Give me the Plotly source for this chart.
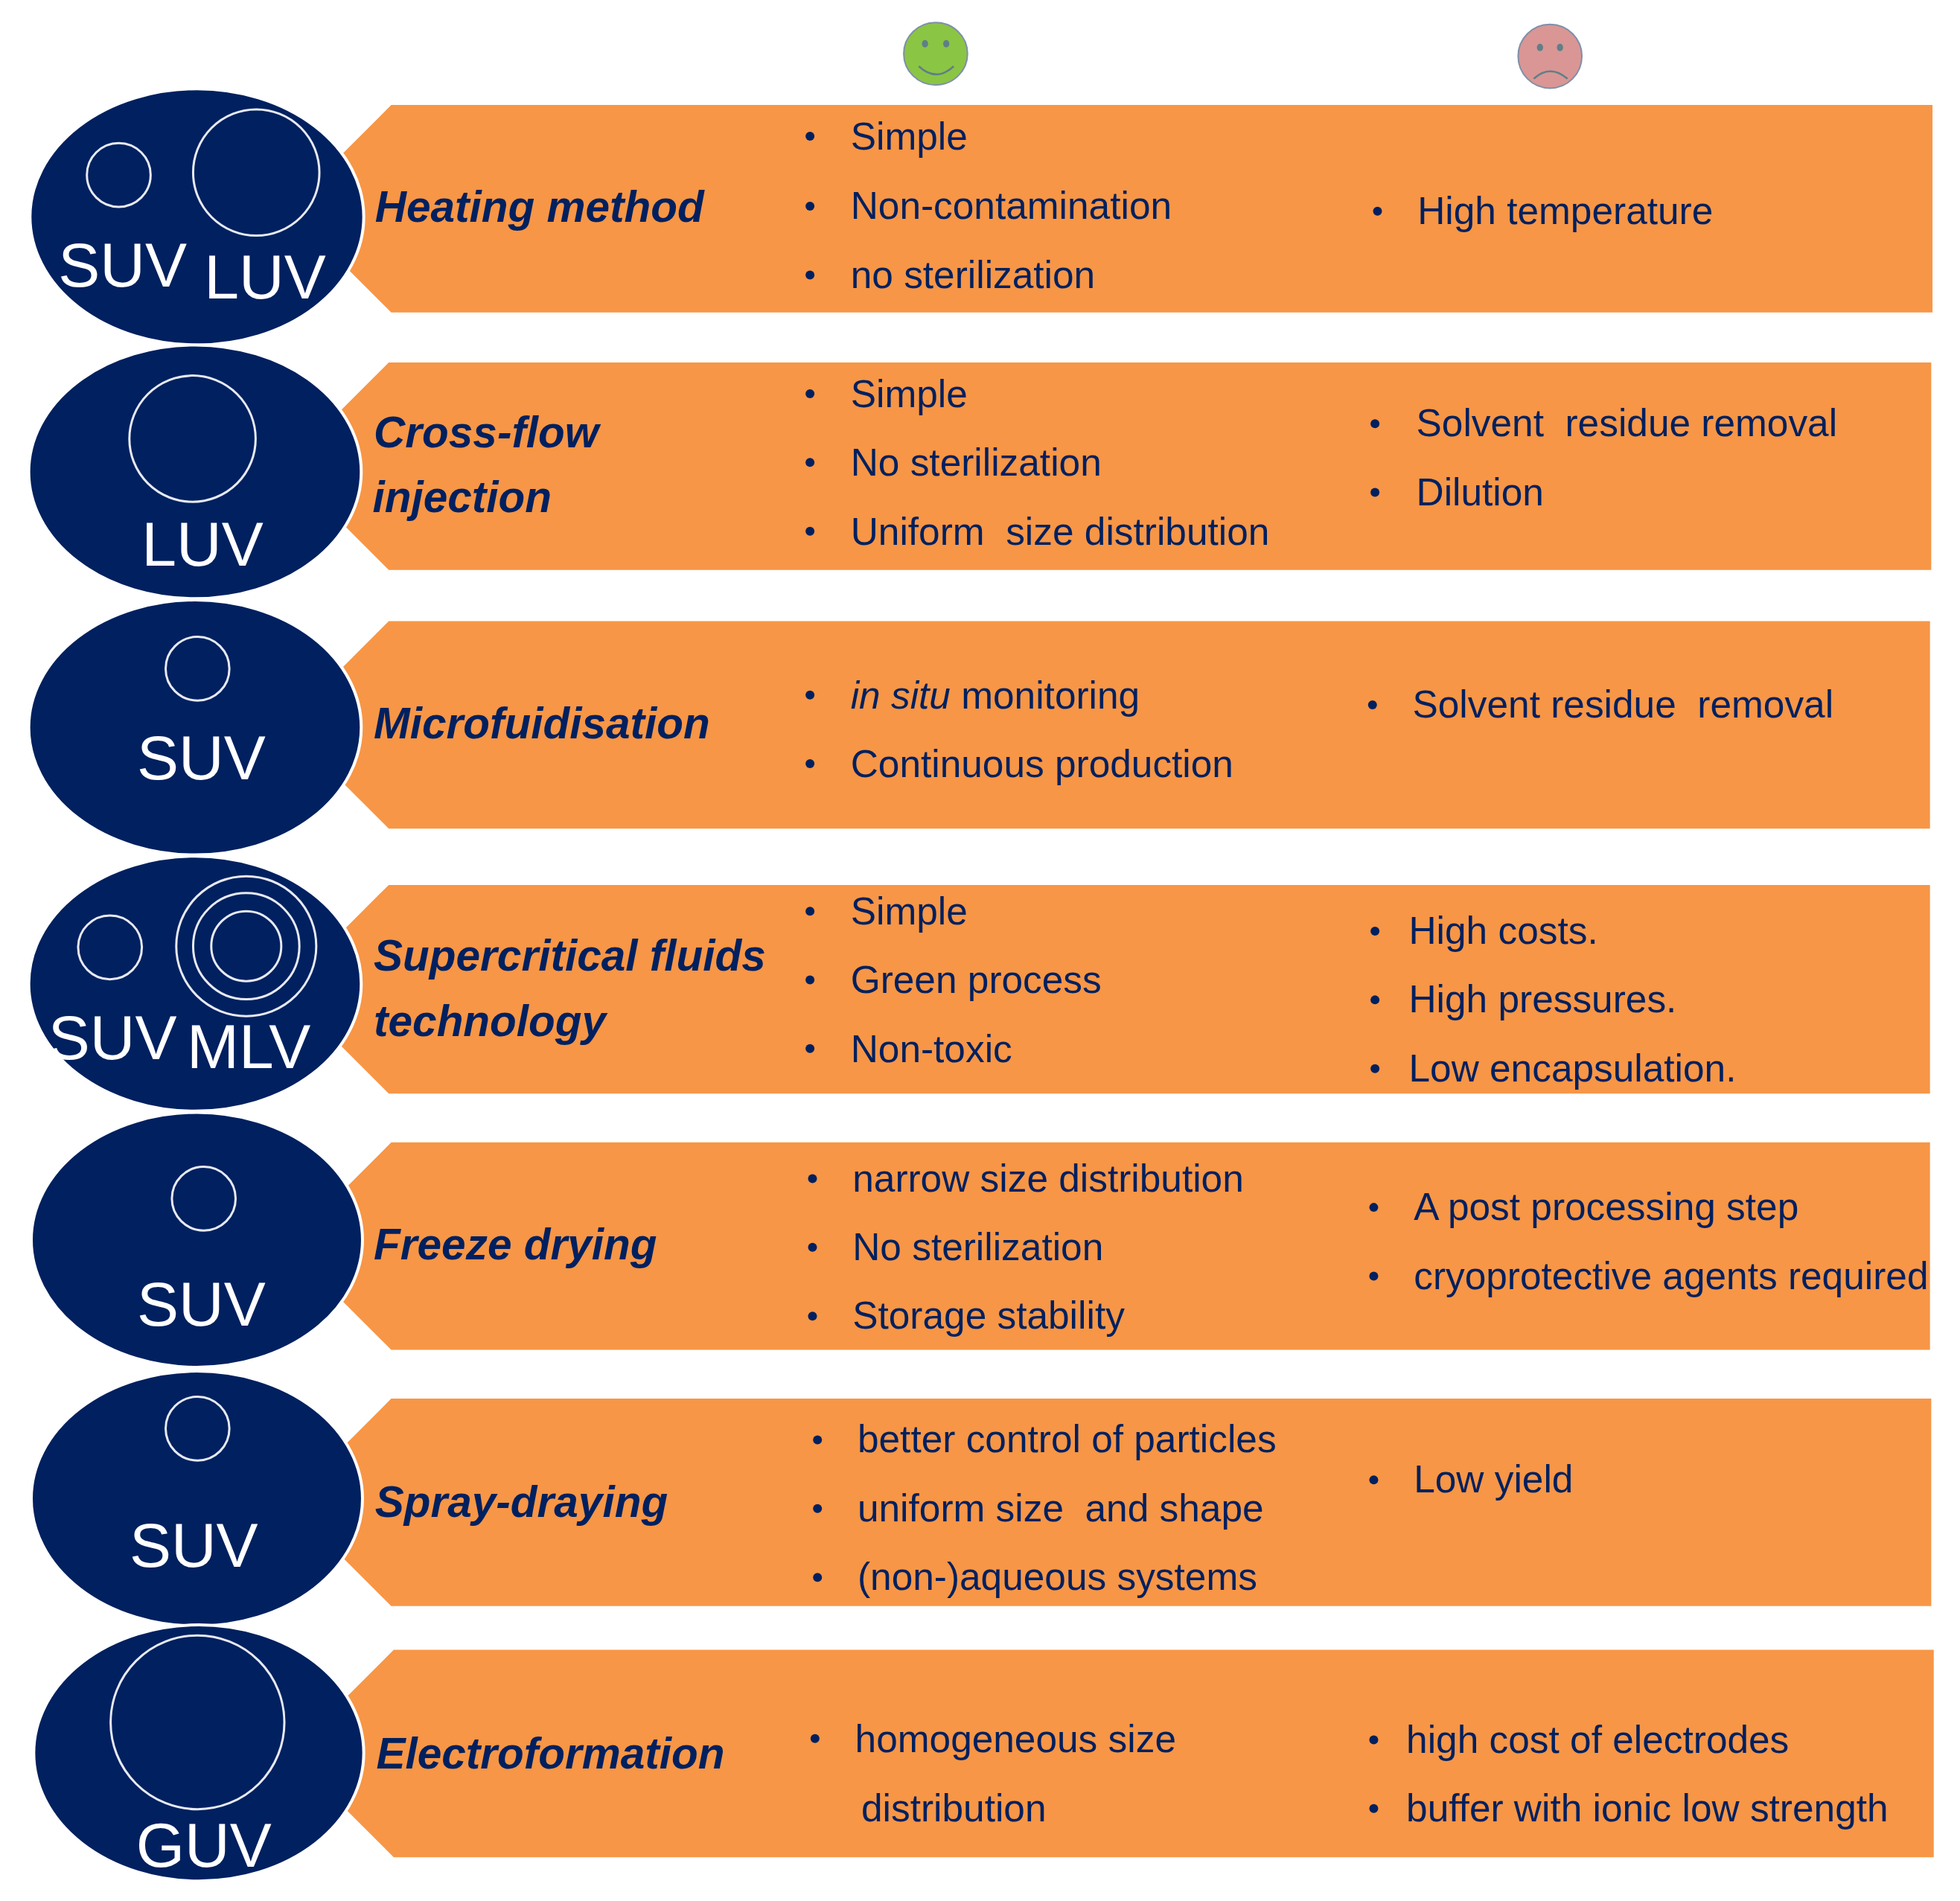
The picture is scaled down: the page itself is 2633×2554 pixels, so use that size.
import plotly.graph_objects as go

W, H = 2633, 2554
SCALE = 2633 / 1568

navy = "#00205f"
orange = "#f79646"

# bands
band_top = [84, 290, 497, 708, 914, 1119, 1320]
band_bot = [250, 456, 663, 875, 1080, 1285, 1486]
band_left = [313, 311, 311, 311, 313, 313, 315]
band_right = [1546, 1545, 1544, 1544, 1544, 1545, 1547]

# big navy ellipses
ell_x0 = [24, 23, 23, 23, 25, 25, 27]
ell_x1 = [291, 289, 289, 289, 290, 290, 291]
ell_y0 = [71, 276, 480, 685, 890, 1097, 1300]
ell_y1 = [276, 479, 684, 889, 1094, 1301, 1505]

# vesicle rings
ring_x = [95, 205, 154, 158, 88, 197, 197, 197, 163, 158, 158]
ring_y = [140, 138, 351, 535, 758, 757, 757, 757, 959, 1143, 1378]
ring_r = [25.5, 50.5, 50.5, 25.5, 25.5, 56, 42.5, 28, 25.5, 25.5, 69.5]

# vesicle labels
ves_text = ["SUV", "LUV", "LUV", "SUV", "SUV", "MLV", "SUV", "SUV", "GUV"]
ves_x = [98, 212, 162, 161, 90, 199, 161, 155, 163]
ves_y = [217, 226, 440, 611, 835, 842, 1048, 1241, 1481]

# method names
method_text = ["Heating method", "Cross-flow", "injection", "Microfuidisation",
               "Supercritical fluids", "technology", "Freeze drying",
               "Spray-draying", "Electroformation"]
method_x = [300, 299, 298, 299, 299, 299, 299, 300, 301]
method_y = [169, 349, 401, 582, 768, 820, 999, 1205, 1406]

# advantages
pro_text = ["Simple", "Non-contamination", "no sterilization",
            "Simple", "No sterilization", "Uniform\u00a0\u00a0size distribution",
            "<i>in situ</i> monitoring", "Continuous production",
            "Simple", "Green process", "Non-toxic",
            "narrow size distribution", "No sterilization", "Storage stability",
            "better control of particles", "uniform size\u00a0\u00a0and shape", "(non-)aqueous systems",
            "homogeneous size", "distribution"]
pro_x = [680.5, 680.5, 680.5, 680.5, 680.5, 680.5, 680.5, 680.5, 680.5, 680.5, 680.5,
         682, 682, 682, 686, 686, 686, 684, 689]
pro_y = [112, 167.5, 223, 318, 373, 428, 559, 614, 732, 787, 842,
         945.5, 1000.5, 1055.5, 1154.5, 1209.5, 1264.5, 1394, 1449.5]
pro_bullet_x = [648, 648, 648, 648, 648, 648, 648, 648, 648, 648, 648,
                650, 650, 650, 654, 654, 654, 652]
pro_bullet_y = [109, 165, 220, 315, 370, 425, 556, 611, 729, 784, 839,
                943, 998, 1053, 1152, 1207, 1262, 1391]

# drawbacks
con_text = ["High temperature", "Solvent\u00a0\u00a0residue removal", "Dilution",
            "Solvent residue\u00a0\u00a0removal", "High costs.", "High pressures.",
            "Low encapsulation.", "A post processing step",
            "cryoprotective agents required", "Low yield",
            "high cost of electrodes", "buffer with ionic low strength"]
con_x = [1134, 1133, 1133, 1130, 1127, 1127, 1127, 1131, 1131, 1131, 1125, 1125]
con_y = [171.5, 341.5, 396.5, 566.5, 747.5, 802.5, 857.5, 968.5, 1023.5, 1186.5, 1394.5, 1449.5]
con_bullet_x = [1102, 1100, 1100, 1098, 1100, 1100, 1100, 1099, 1099, 1099, 1099, 1099]
con_bullet_y = [169, 339, 394, 564, 745, 800, 855, 966, 1021, 1184, 1392, 1447]

shapes = []

for i in range(len(band_top)):
    l, r, t, b = band_left[i], band_right[i], band_top[i], band_bot[i]
    tip = l - (b - t) / 2
    shapes.append(dict(type="path", path=f"M {l} {t} L {r} {t} L {r} {b} L {l} {b} L {tip} {(t + b) / 2} Z",
                       fillcolor=orange, line=dict(width=0), layer="below"))

for i in range(len(ell_x0)):
    shapes.append(dict(type="circle", x0=ell_x0[i], x1=ell_x1[i], y0=ell_y0[i], y1=ell_y1[i],
                       fillcolor=navy, line=dict(color="white", width=4), layer="below"))

for x, y, rad in zip(ring_x, ring_y, ring_r):
    shapes.append(dict(type="circle", x0=x - rad, x1=x + rad, y0=y - rad, y1=y + rad,
                       line=dict(color="#e6eaf2", width=3), layer="below"))

# the two faces
def face(cx, cy, rx, ry, col, eyes_x, eye_y, mouth):
    shapes.append(dict(type="circle", x0=cx - rx, x1=cx + rx, y0=cy - ry, y1=cy + ry,
                       fillcolor=col, line=dict(color="#7f8fa8", width=2), layer="below"))
    for ex in eyes_x:
        shapes.append(dict(type="circle", x0=ex - 2.5, x1=ex + 2.5, y0=eye_y - 3, y1=eye_y + 3,
                           fillcolor="#5f7f88", line=dict(width=0), layer="below"))
    shapes.append(dict(type="path", path=mouth, line=dict(color="#5f7f88", width=2.5), layer="below"))

face(748.5, 43, 25.5, 25, "#8bc544", [740, 757], 35, "M 735 53 Q 749 66 763 53")
face(1240, 45, 25.5, 25.5, "#d99694", [1232, 1248], 38, "M 1227 63 Q 1240 51 1254 63")

fig = go.Figure()

fig.add_trace(go.Scatter(x=pro_bullet_x + con_bullet_x, y=pro_bullet_y + con_bullet_y, mode="markers",
                         marker=dict(color=navy, size=12), showlegend=False))
fig.add_trace(go.Scatter(x=pro_x, y=pro_y, text=pro_text, mode="text", textposition="middle right",
                         textfont=dict(family="Liberation Sans", size=51.4, color=navy), showlegend=False))
fig.add_trace(go.Scatter(x=con_x, y=con_y, text=con_text, mode="text", textposition="middle right",
                         textfont=dict(family="Liberation Sans", size=51.4, color=navy), showlegend=False))
fig.add_trace(go.Scatter(x=method_x, y=method_y, text=[f"<b><i>{t}</i></b>" for t in method_text],
                         mode="text", textposition="middle right",
                         textfont=dict(family="Liberation Sans", size=58.5, color=navy), showlegend=False))
fig.add_trace(go.Scatter(x=ves_x, y=ves_y, text=ves_text, mode="text", textposition="middle center",
                         textfont=dict(family="Liberation Sans", size=84, color="white"), showlegend=False))

fig.update_layout(width=W, height=H, margin=dict(l=0, r=0, t=0, b=0),
                  plot_bgcolor="white", paper_bgcolor="white", shapes=shapes)
fig.update_xaxes(range=[0, W / SCALE], visible=False)
fig.update_yaxes(range=[H / SCALE, 0], visible=False)

fig.write_html("out.html", config={"displayModeBar": False},
               post_script="document.body.style.margin='0';")
